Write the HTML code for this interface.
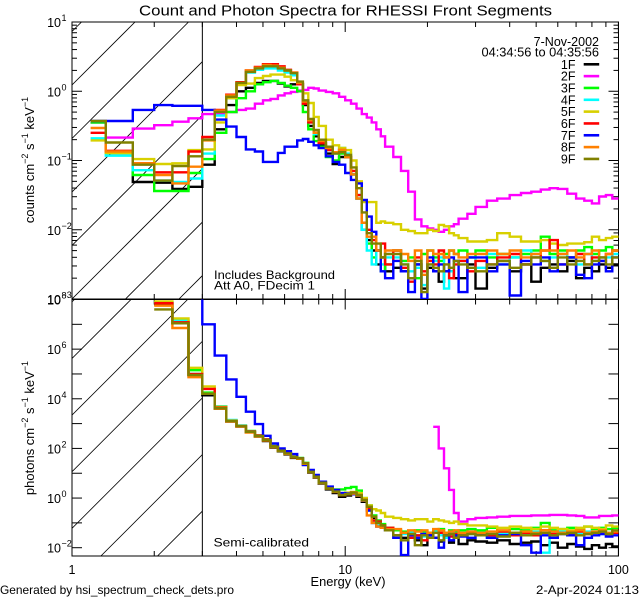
<!DOCTYPE html>
<html><head><meta charset="utf-8"><title>RHESSI Front Segments spectra</title>
<style>
html,body{margin:0;padding:0;background:#fff;overflow:hidden;width:640px;height:600px;}
svg{display:block;font-family:"Liberation Sans",sans-serif;}
</style></head>
<body>
<svg id="chart" width="640" height="600" viewBox="0 0 640 600" xmlns="http://www.w3.org/2000/svg">
<rect x="0" y="0" width="640" height="600" fill="#fff"/>
<defs>
<clipPath id="clipTop"><rect x="72" y="22" width="546.5" height="277"/></clipPath>
<clipPath id="clipBot"><rect x="72" y="299.5" width="546.5" height="256.5"/></clipPath>
<clipPath id="clipHatchTop"><rect x="72" y="22" width="130.3" height="277"/></clipPath>
<clipPath id="clipHatchBot"><rect x="72" y="299.5" width="130.3" height="256.5"/></clipPath>
</defs>
<text x="345.5" y="15.5" font-size="15" text-anchor="middle" textLength="413" lengthAdjust="spacingAndGlyphs">Count and Photon Spectra for RHESSI Front Segments</text>
<g id="hatch"></g>
<g id="axes"></g>
<g id="series"></g>
<g id="legend"></g>
<text x="214" y="279" font-size="12" textLength="121" lengthAdjust="spacingAndGlyphs">Includes Background</text>
<text x="214" y="289.5" font-size="12" textLength="101" lengthAdjust="spacingAndGlyphs">Att A0, FDecim 1</text>
<text x="213.5" y="546.5" font-size="12" textLength="95.5" lengthAdjust="spacingAndGlyphs">Semi-calibrated</text>
<text x="348" y="586" font-size="12.5" text-anchor="middle" textLength="75" lengthAdjust="spacingAndGlyphs">Energy (keV)</text>
<text x="0" y="594" font-size="12" textLength="234" lengthAdjust="spacingAndGlyphs">Generated by hsi_spectrum_check_dets.pro</text>
<text x="639" y="594" font-size="12" text-anchor="end" textLength="103" lengthAdjust="spacingAndGlyphs">2-Apr-2024 01:13</text>
<text transform="translate(34,160) rotate(-90)" font-size="13" text-anchor="middle">counts cm<tspan font-size="9" dy="-6">−2</tspan><tspan dy="6"> s</tspan><tspan font-size="9" dy="-6">−1</tspan><tspan dy="6"> keV</tspan><tspan font-size="9" dy="-6">−1</tspan></text>
<text transform="translate(34,428) rotate(-90)" font-size="13" text-anchor="middle">photons cm<tspan font-size="9" dy="-6">−2</tspan><tspan dy="6"> s</tspan><tspan font-size="9" dy="-6">−1</tspan><tspan dy="6"> keV</tspan><tspan font-size="9" dy="-6">−1</tspan></text>
</svg>
<script>
// ---- data ----
const energyEdges = [1.17,1.33,1.67,2,2.33,2.67,3,3.33,3.67,4,4.33,4.67,5,5.33,5.67,6,6.33,6.67,7,7.33,7.67,8,
 8.5,9,9.5,10,10.5,11,11.5,12,12.5,13,13.5,14,15,
 16,17,18,19,20,21,22,23,24,25,26,28,30,
 33,36,40,44,48,52,56,60,65,70,75,80,85,90,95,100];
const segmentNames = ['1F','2F','3F','4F','5F','6F','7F','8F','9F'];
const xTickLabels = ['1','10','100'];
const topTickExps = [1,0,-1,-2,-3];
const botTickExps = [8,6,4,2,0,-2];

// top panel: log10 counts cm^-2 s^-1 keV^-1
const counts1F = [-0.45,-0.89,-1.31,-1.32,-1.41,-1.38,
 -1.06,-0.55,-0.2,0.0,0.05,0.12,0.15,0.15,0.11,0.07,0.1,0.1,-0.2,-0.5,-0.65,
 -0.78,-0.9,-1.05,-0.95,-0.95,-1.2,-1.55,-2.0,-2.15,-2.3,-2.5,-2.4,-2.6,
 -2.55,-2.6,-2.7,-2.5,-2.85,-2.55,-2.6,-2.75,-2.6,-2.6,-2.7,-2.7,-2.5,
 -2.85,-2.55,-2.45,-2.6,-2.5,-2.75,-2.55,-2.5,-2.6,-2.45,-2.7,-2.55,-2.6,-2.5,-2.55,-2.5];
const counts2F = [null,-0.67,-0.54,-0.49,-0.44,-0.39,
 -0.33,-0.32,-0.3,-0.27,-0.25,-0.18,-0.13,-0.11,-0.06,-0.03,-0.01,0.01,0.02,0.05,0.04,
 0.01,-0.01,-0.03,-0.08,-0.13,-0.18,-0.25,-0.33,-0.38,-0.45,-0.55,-0.65,-0.8,
 -0.95,-1.15,-1.45,-1.85,-1.95,-1.98,-2.0,-2.03,-2.0,-1.95,-1.92,-1.84,-1.77,
 -1.67,-1.58,-1.55,-1.5,-1.47,-1.45,-1.42,-1.4,-1.41,-1.48,-1.55,-1.58,-1.62,-1.52,-1.5,-1.55];
const counts3F = [-0.45,-0.89,-1.21,-1.44,-1.44,-1.18,
 -0.98,-0.6,-0.3,-0.1,0.0,0.1,0.13,0.15,0.12,0.08,0.05,0.0,-0.3,-0.55,-0.72,
 -0.8,-0.95,-1.0,-0.9,-0.95,-1.2,-1.5,-1.9,-2.2,-2.4,-2.3,-2.6,-2.5,
 -2.3,-2.45,-2.4,-2.7,-2.35,-2.3,-2.4,-2.45,-2.35,-2.3,-2.35,-2.3,-2.4,
 -2.3,-2.4,-2.35,-2.4,-2.35,-2.3,-2.1,-2.35,-2.3,-2.4,-2.3,-2.25,-2.35,-2.3,-2.25,-2.3];
const counts4F = [-0.68,-0.93,-1.14,-1.29,-1.31,-1.26,
 -0.9,-0.35,-0.1,0.10,0.27,0.31,0.33,0.33,0.30,0.27,0.23,0.10,-0.15,-0.45,-0.62,
 -0.75,-0.85,-0.9,-0.82,-0.9,-1.2,-1.55,-2.0,-2.3,-2.5,-2.3,-2.5,-2.4,
 -2.4,-2.5,-2.6,-2.55,-2.8,-2.5,-2.45,-2.4,-2.85,-2.6,-2.45,-2.45,-2.4,
 -2.55,-2.35,-2.5,-2.4,-2.3,-2.35,-2.45,-2.4,-2.35,-2.4,-2.5,-2.35,-2.45,-2.4,-2.4,-2.35];
const counts5F = [-0.71,-0.89,-0.98,-1.05,-1.04,-0.85,
 -0.84,-0.45,-0.1,0.09,0.11,0.19,0.22,0.24,0.24,0.21,0.16,0.11,-0.03,-0.17,-0.37,
 -0.5,-0.7,-0.78,-0.82,-0.85,-1.0,-1.3,-1.6,-1.6,-1.6,-1.9,-1.88,-1.9,
 -1.92,-2.0,-2.02,-2.05,-2.05,-2.0,-2.02,-1.93,-1.95,-2.05,-2.08,-2.12,-2.17,
 -2.17,-2.15,-2.05,-2.1,-2.17,-2.17,-2.15,-2.2,-2.22,-2.2,-2.2,-2.18,-2.1,-2.15,-2.12,-2.1];
const counts6F = [-0.60,-0.86,-1.04,-1.17,-1.17,-0.87,
 -0.66,-0.27,-0.05,0.13,0.30,0.35,0.39,0.39,0.36,0.31,0.27,0.1,-0.18,-0.45,-0.6,
 -0.75,-0.85,-0.88,-0.85,-0.95,-1.15,-1.5,-1.9,-2.0,-2.15,-2.3,-2.2,-2.5,
 -2.3,-2.55,-2.75,-2.4,-2.6,-2.45,-2.5,-2.3,-2.4,-2.7,-2.5,-2.45,-2.6,
 -2.45,-2.5,-2.4,-2.35,-2.5,-2.4,-2.3,-2.15,-2.5,-2.4,-2.35,-2.5,-2.4,-2.45,-2.35,-2.3];
const counts7F = [-0.43,-0.43,-0.27,-0.20,-0.21,-0.21,
 -0.27,-0.41,-0.51,-0.66,-0.84,-0.87,-1.02,-1.02,-0.89,-0.80,-0.80,-0.71,-0.69,-0.73,-0.78,
 -0.82,-0.94,-1.02,-1.06,-1.18,-1.28,-1.33,-1.57,-1.81,-2.03,-2.3,-2.6,-2.7,
 -2.45,-2.6,-2.9,-2.5,-3.0,-2.4,-2.6,-2.5,-2.6,-2.4,-2.45,-2.9,-2.4,
 -2.4,-2.6,-2.5,-2.95,-2.45,-2.5,-2.4,-2.6,-2.5,-2.4,-2.65,-2.7,-2.5,-2.45,-2.6,-2.4];
const counts8F = [-0.53,-0.87,-1.04,-1.21,-1.33,-1.09,
 -0.71,-0.28,-0.06,0.12,0.30,0.34,0.38,0.37,0.34,0.30,0.27,0.12,-0.15,-0.42,-0.6,
 -0.72,-0.82,-0.88,-0.85,-0.95,-1.2,-1.55,-1.9,-2.1,-2.1,-2.3,-2.4,-2.3,
 -2.3,-2.35,-2.45,-2.3,-2.65,-2.3,-2.35,-2.35,-2.4,-2.3,-2.35,-2.4,-2.35,
 -2.35,-2.3,-2.35,-2.3,-2.4,-2.35,-2.3,-2.3,-2.35,-2.3,-2.4,-2.35,-2.3,-2.4,-2.35,-2.3];
const counts9F = [-0.43,-0.74,-1.06,-1.29,-1.08,-0.94,
 -0.70,-0.30,-0.08,0.12,0.28,0.33,0.36,0.36,0.33,0.30,0.26,0.14,-0.13,-0.40,-0.56,
 -0.70,-0.80,-0.90,-0.88,-0.92,-1.1,-1.4,-1.75,-2.05,-2.2,-2.2,-2.4,-2.35,
 -2.35,-2.5,-2.7,-2.45,-2.9,-2.5,-2.55,-2.6,-2.5,-2.55,-2.45,-2.5,-2.55,
 -2.6,-2.5,-2.45,-2.55,-2.5,-2.4,-2.45,-2.55,-2.4,-2.5,-2.45,-2.5,-2.45,-2.4,-2.5,-2.4];

// bottom panel: log10 photons cm^-2 s^-1 keV^-1
const photons1F = [null,null,null,7.8,7.04,4.96,
 4.14,3.6,3.08,2.88,2.65,2.48,2.3,2.03,1.88,1.76,1.62,1.58,1.36,1.02,0.82,
 0.58,0.35,0.2,0.05,0.1,0.15,0.05,-0.15,-0.4,-0.8,-1.0,-1.15,-1.3,
 -1.5,-1.6,-1.45,-1.7,-1.9,-1.5,-1.6,-1.75,-1.55,-1.8,-1.6,-1.85,-1.7,
 -1.75,-1.8,-1.7,-1.85,-1.8,-1.75,-1.9,-1.8,-2.0,-1.85,-1.95,-2.05,-1.9,-2.0,-1.85,-1.95];
const photons2F = [null,null,null,null,null,null,
 null,null,null,null,null,null,null,null,null,null,null,null,null,null,null,
 null,null,null,null,null,null,null,null,null,null,null,null,null,
 null,null,null,null,null,null,2.87,2.0,1.2,0.33,-0.6,-0.95,-0.85,
 -0.8,-0.78,-0.75,-0.72,-0.72,-0.7,-0.7,-0.68,-0.68,-0.7,-0.72,-0.78,-0.78,-0.72,-0.72,-0.7];
const photons3F = [null,null,null,7.88,7.14,5.15,
 4.25,3.64,3.12,2.92,2.7,2.52,2.36,2.1,1.93,1.82,1.68,1.62,1.42,1.1,0.9,
 0.66,0.45,0.35,0.35,0.4,0.45,0.3,0.0,-0.3,-0.7,-0.9,-1.05,-1.2,
 -1.3,-1.35,-1.4,-1.3,-1.35,-1.4,-1.3,-1.25,-1.4,-1.3,-1.35,-1.3,-1.25,
 -1.3,-1.2,-1.35,-1.25,-1.3,-1.2,-1.0,-1.3,-1.25,-1.2,-1.3,-1.15,-1.25,-1.2,-1.25,-1.2];
const photons4F = [null,null,null,7.9,7.14,5.0,
 4.2,3.7,3.15,2.92,2.68,2.5,2.34,2.06,1.9,1.8,1.65,1.6,1.4,1.05,0.85,
 0.6,0.4,0.28,0.14,0.18,0.2,0.12,-0.1,-0.5,-1.0,-1.1,-1.2,-1.25,
 -1.5,-1.45,-1.4,-1.5,-1.55,-1.45,-1.35,-1.5,-1.6,-1.4,-1.45,-1.5,-1.45,
 -1.4,-1.55,-1.45,-1.4,-1.45,-1.35,-2.2,-1.4,-1.35,-1.4,-1.45,-1.35,-1.4,-1.45,-1.4,-1.35];
const photons5F = [null,null,null,7.92,7.24,5.25,
 4.5,3.68,3.12,2.9,2.66,2.5,2.33,2.06,1.9,1.8,1.65,1.6,1.4,1.08,0.88,
 0.65,0.45,0.32,0.2,0.22,0.25,0.2,0.0,-0.3,-0.45,-0.5,-0.6,-0.75,
 -0.8,-0.85,-0.9,-0.85,-0.85,-0.95,-0.85,-0.9,-0.95,-1.0,-0.95,-1.05,-1.1,
 -1.1,-1.15,-1.2,-1.15,-1.2,-1.25,-1.15,-1.2,-1.25,-1.3,-1.2,-1.15,-1.2,-1.25,-1.1,-1.15];
const photons6F = [null,null,null,7.85,7.08,5.0,
 4.4,3.64,3.1,2.9,2.68,2.52,2.36,2.08,1.92,1.82,1.66,1.6,1.4,1.06,0.86,
 0.62,0.4,0.26,0.12,0.16,0.22,0.12,-0.08,-0.45,-0.9,-0.95,-1.1,-1.2,
 -1.5,-1.4,-1.6,-1.5,-1.7,-1.45,-1.6,-1.4,-1.5,-1.55,-1.45,-1.5,-1.4,
 -1.45,-1.5,-1.35,-1.5,-1.4,-1.5,-1.3,-1.45,-1.4,-1.5,-1.35,-1.45,-1.4,-1.35,-1.45,-1.4];
const photons7F = [null,null,null,8.6,8.3,8.05,
 7.0,5.74,4.78,4.08,3.48,2.98,2.51,2.2,2.0,1.89,1.77,1.6,1.33,1.13,0.93,
 0.66,0.46,0.33,0.2,0.18,0.15,0.1,-0.1,-0.5,-1.0,-1.15,-1.2,-1.3,
 -1.6,-2.3,-1.5,-1.6,-1.45,-1.5,-1.6,-2.0,-1.45,-1.7,-1.5,-1.55,-1.6,
 -1.45,-1.6,-1.5,-1.45,-1.9,-2.2,-1.5,-1.6,-1.45,-1.5,-1.9,-1.6,-1.5,-1.45,-1.55,-1.5];
const photons8F = [null,null,null,7.75,6.85,4.87,
 4.2,3.6,3.08,2.88,2.64,2.48,2.32,2.05,1.9,1.78,1.64,1.58,1.38,1.04,0.84,
 0.6,0.38,0.25,0.12,0.15,0.18,0.1,-0.1,-0.7,-1.0,-1.15,-1.2,-1.25,
 -1.25,-1.4,-1.3,-1.35,-1.3,-1.4,-1.25,-1.3,-1.4,-1.35,-1.3,-1.4,-1.35,
 -1.4,-1.35,-1.3,-1.4,-1.35,-1.4,-1.3,-1.35,-1.4,-1.35,-1.3,-1.4,-1.35,-1.3,-1.4,-1.35];
const photons9F = [null,null,null,7.6,7.04,4.96,
 4.2,3.62,3.1,2.9,2.67,2.5,2.34,2.07,1.91,1.8,1.65,1.6,1.4,1.06,0.86,
 0.62,0.39,0.26,0.12,0.16,0.22,0.12,-0.08,-0.35,-0.75,-1.0,-1.1,-1.3,
 -1.5,-1.7,-1.45,-1.9,-1.5,-1.6,-1.4,-1.7,-1.5,-1.45,-1.6,-1.5,-1.45,
 -1.5,-1.45,-1.55,-1.4,-1.5,-1.45,-1.4,-1.5,-1.45,-1.4,-1.5,-1.45,-1.4,-1.35,-1.45,-1.3];

const topSeries = [counts1F,counts2F,counts3F,counts4F,counts5F,counts6F,counts7F,counts8F,counts9F];
const botSeries = [photons1F,photons2F,photons3F,photons4F,photons5F,photons6F,photons7F,photons8F,photons9F];
const seriesColors = ['#000000','#ff00ff','#00ff00','#00ffff','#d8d000','#ff0000','#0000ff','#ff8000','#808000'];

// ---- axes ----
const NS = 'http://www.w3.org/2000/svg';
const X0 = 72, DEC = 273.2, XR = 618.5;
const TOP_Y0 = 22, TOP_Y1 = 299, TOP_DEC = 69.25;
const BOT_Y0 = 299.5, BOT_Y1 = 556, BOT_DEC = 24.82;
function xOf(e){ return X0 + DEC*Math.log10(e); }
function yTop(l){ return TOP_Y0 + (1 - l)*TOP_DEC; }
function yBot(l){ return BOT_Y0 + (8 - l)*BOT_DEC; }
function mk(tag, attrs, parent){
  const el = document.createElementNS(NS, tag);
  for (const k in attrs) el.setAttribute(k, attrs[k]);
  parent.appendChild(el);
  return el;
}
const axes = document.getElementById('axes');
const hatch = document.getElementById('hatch');
const seriesG = document.getElementById('series');
const legend = document.getElementById('legend');

// hatching over 1-3 keV (45 degree lines)
const hTop = mk('g', {'clip-path':'url(#clipHatchTop)'}, hatch);


for (let k = -4; k <= 6; k++) {
  const y = 85 + 53.5*k;
  mk('line', {x1:72, y1:y, x2:212, y2:y-140, stroke:'#000', 'stroke-width':0.8}, hTop);
}
const hBot = mk('g', {'clip-path':'url(#clipHatchBot)'}, hatch);


for (let k = -4; k <= 6; k++) {
  const y = 528.3 - 56.6*k;
  mk('line', {x1:72, y1:y, x2:212, y2:y-140, stroke:'#000', 'stroke-width':0.8}, hBot);
}

// panel frames
const fTop = mk('rect', {x:72, y:TOP_Y0, width:XR-72, height:TOP_Y1-TOP_Y0, fill:'none', stroke:'#000', 'stroke-width':1}, axes);


const fBot = mk('rect', {x:72, y:BOT_Y0, width:XR-72, height:BOT_Y1-BOT_Y0, fill:'none', stroke:'#000', 'stroke-width':1}, axes);


const v3t = mk('line', {x1:xOf(3), y1:TOP_Y0, x2:xOf(3), y2:TOP_Y1, stroke:'#000', 'stroke-width':1}, axes);


const v3b = mk('line', {x1:xOf(3), y1:BOT_Y0, x2:xOf(3), y2:BOT_Y1, stroke:'#000', 'stroke-width':1}, axes);



// x ticks
for (let d = 0; d < 3; d++) {
  for (let m = 1; m <= 9; m++) {
    const e = m*Math.pow(10, d);
    if (e > 100) break;
    const x = xOf(e);
    const len = (m === 1) ? 10 : 5;
    [[TOP_Y1, -1],[TOP_Y0, 1],[BOT_Y1, -1],[BOT_Y0, 1]].forEach(([y, s]) => {
      mk('line', {x1:x, y1:y, x2:x, y2:y + s*len, stroke:'#000', 'stroke-width':1}, axes);
    });
  }
}
xTickLabels.forEach((lab, i) => {
  const t = mk('text', {x:xOf(Math.pow(10, i)), y:574, 'font-size':12.5, 'text-anchor':'middle'}, axes);
  
  
  t.textContent = lab;
});

// y ticks top
for (let p = -3; p <= 0; p++) {
  for (let m = 1; m <= 9; m++) {
    const l = p + Math.log10(m);
    const y = yTop(l);
    const len = (m === 1) ? 10 : 5;
    mk('line', {x1:72, y1:y, x2:72+len, y2:y, stroke:'#000', 'stroke-width':1}, axes);
    mk('line', {x1:XR, y1:y, x2:XR-len, y2:y, stroke:'#000', 'stroke-width':1}, axes);
  }
}
topTickExps.forEach(p => {
  const y = yTop(p);
  const t = mk('text', {x:61, y:y+5, 'font-size':12.5, 'text-anchor':'end'}, axes);
  
  
  t.textContent = '10';
  const s = mk('text', {x:61.5, y:y-1, 'font-size':9}, axes);
  s.textContent = (p < 0 ? '−' : '') + Math.abs(p);
});
// y ticks bottom
for (let p = -2; p <= 8; p++) {
  const y = yBot(p);
  mk('line', {x1:72, y1:y, x2:82, y2:y, stroke:'#000', 'stroke-width':1}, axes);
  mk('line', {x1:XR, y1:y, x2:XR-10, y2:y, stroke:'#000', 'stroke-width':1}, axes);
}
botTickExps.forEach(p => {
  const y = yBot(p);
  const t = mk('text', {x:61, y:y+5, 'font-size':12.5, 'text-anchor':'end'}, axes);
  
  
  t.textContent = '10';
  const s = mk('text', {x:61.5, y:y-1, 'font-size':9}, axes);
  s.textContent = (p < 0 ? '−' : '') + Math.abs(p);
});

// ---- series ----
function stepPath(vals, yFn){
  let d = '', open = false;
  for (let i = 0; i < vals.length; i++) {
    const v = vals[i];
    if (v === null || v === undefined) { open = false; continue; }
    const xa = xOf(energyEdges[i]), xb = xOf(energyEdges[i+1]), y = yFn(v);
    d += (open ? 'L' : 'M') + xa.toFixed(1) + ' ' + y.toFixed(1) + 'L' + xb.toFixed(1) + ' ' + y.toFixed(1);
    open = true;
  }
  return d;
}
const gTop = mk('g', {'clip-path':'url(#clipTop)'}, seriesG);
const gBot = mk('g', {'clip-path':'url(#clipBot)'}, seriesG);
topSeries.forEach((vals, i) => {
  const p = mk('path', {d:stepPath(vals, yTop), fill:'none', stroke:seriesColors[i], 'stroke-width':2.4}, gTop);
  
  
});
botSeries.forEach((vals, i) => {
  const p = mk('path', {d:stepPath(vals, yBot), fill:'none', stroke:seriesColors[i], 'stroke-width':2.4}, gBot);
  
  
});

// ---- legend ----
const dt = mk('text', {x:599, y:46, 'font-size':12.5, 'text-anchor':'end'}, legend);


dt.textContent = '7-Nov-2002';
const tr = mk('text', {x:599, y:56.5, 'font-size':12.5, 'text-anchor':'end', textLength:117.5, lengthAdjust:'spacingAndGlyphs'}, legend);


tr.textContent = '04:34:56 to 04:35:56';
segmentNames.forEach((n, i) => {
  const y = 64.3 + i*11.83;
  const t = mk('text', {x:575.5, y:y+4.5, 'font-size':12.5, 'text-anchor':'end'}, legend);
  
  
  t.textContent = n;
  const l = mk('line', {x1:583.7, y1:y, x2:599.2, y2:y, stroke:seriesColors[i], 'stroke-width':2.6}, legend);
  
  
});
</script>
</body></html>
